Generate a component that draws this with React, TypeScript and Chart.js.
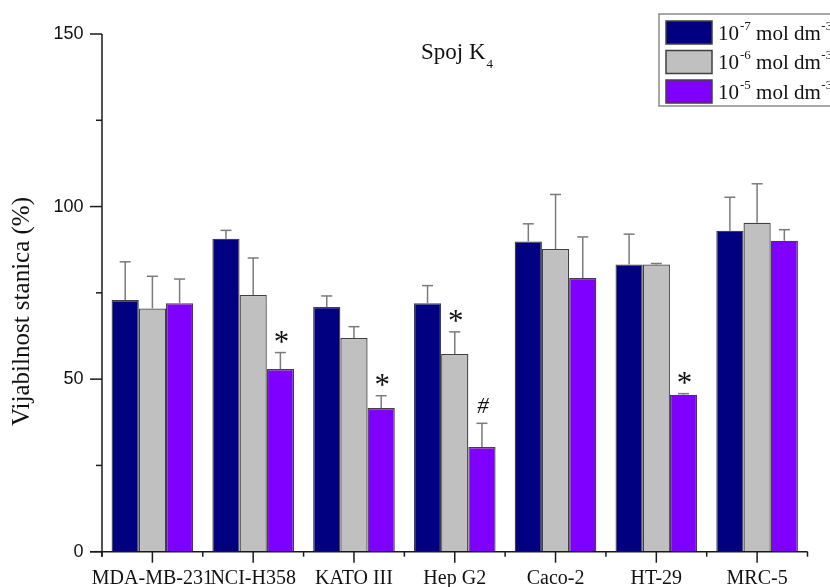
import React, { useEffect, useRef } from 'react';
import { Chart, registerables } from 'chart.js';

Chart.register(...registerables);

// ---- data ----
const CATEGORIES = ['MDA-MB-231', 'NCI-H358', 'KATO III', 'Hep G2', 'Caco-2', 'HT-29', 'MRC-5'];
const SERIES_EXPONENTS = ['-7', '-6', '-5'];
const SERIES_LABELS = ['10^-7 mol dm^-3', '10^-6 mol dm^-3', '10^-5 mol dm^-3'];

const VALUES_1E7 = [72.9, 90.7, 70.9, 72.0, 89.9, 83.2, 93.0];
const ERRORS_1E7 = [11.1, 2.4, 3.2, 5.1, 5.1, 8.8, 9.7];
const VALUES_1E6 = [70.5, 74.4, 61.9, 57.3, 87.7, 83.2, 95.3];
const ERRORS_1E6 = [9.3, 10.7, 3.3, 6.4, 15.8, 0.3, 11.3];
const VALUES_1E5 = [72.0, 52.9, 41.6, 30.3, 79.3, 45.5, 90.1];
const ERRORS_1E5 = [7.0, 4.8, 3.6, 6.9, 11.9, 0.3, 3.2];

const MARKS_1E7 = ['', '', '', '', '', '', ''];
const MARKS_1E6 = ['', '', '', '*', '', '', ''];
const MARKS_1E5 = ['', '*', '*', '#', '', '*', ''];

const Y_MIN = 0;
const Y_MAX = 150;
const Y_STEP = 25;
const Y_LABELED_TICKS = [0, 50, 100, 150];

const TITLE_MAIN = 'Spoj K';
const TITLE_SUB = '4';
const Y_TITLE = 'Vijabilnost stanica (%)';

const COLORS = ['#000080', '#C0C0C0', '#8000FF'];

const ERRORS = [ERRORS_1E7, ERRORS_1E6, ERRORS_1E5];
const MARKS = [MARKS_1E7, MARKS_1E6, MARKS_1E5];
const VALUES = [VALUES_1E7, VALUES_1E6, VALUES_1E5];

const SERIF = '"Liberation Serif", "Times New Roman", serif';
const SANS = '"Liberation Sans", Arial, sans-serif';
const AXIS_COLOR = '#1a1a1a';

function line(ctx: CanvasRenderingContext2D, x1: number, y1: number, x2: number, y2: number) {
  ctx.beginPath();
  ctx.moveTo(x1, y1);
  ctx.lineTo(x2, y2);
  ctx.stroke();
}

const decorPlugin = {
  id: 'decor',
  afterDatasetsDraw(chart: any) {
    const ctx: CanvasRenderingContext2D = chart.ctx;
    const ys = chart.scales.y;
    ctx.save();
    chart.data.datasets.forEach((ds: any, di: number) => {
      const meta = chart.getDatasetMeta(di);
      meta.data.forEach((bar: any, j: number) => {
        const v = ds.data[j] as number;
        const e = ERRORS[di][j];
        const yBar = ys.getPixelForValue(v);
        const yTop = ys.getPixelForValue(v + e);
        ctx.strokeStyle = '#7a7a7a';
        ctx.lineWidth = 1.5;
        line(ctx, bar.x, yBar, bar.x, yTop);
        line(ctx, bar.x - 5.5, yTop, bar.x + 5.5, yTop);
        const mk = MARKS[di][j];
        if (mk) {
          ctx.fillStyle = '#111';
          ctx.font = mk === '#' ? `italic 23px ${SERIF}` : `31px ${SERIF}`;
          ctx.textAlign = 'center';
          ctx.textBaseline = 'alphabetic';
          const m = ctx.measureText(mk);
          const gap = 10;
          const baseline = yTop - gap - m.actualBoundingBoxDescent;
          ctx.fillText(mk, bar.x + 1, baseline);
        }
      });
    });
    ctx.restore();
  },
  afterDraw(chart: any) {
    const ctx: CanvasRenderingContext2D = chart.ctx;
    const ca = chart.chartArea;
    const ys = chart.scales.y;
    const xs = chart.scales.x;
    ctx.save();
    ctx.strokeStyle = AXIS_COLOR;
    ctx.lineWidth = 1.5;
    line(ctx, ca.left, ca.top, ca.left, ca.bottom + 5);
    line(ctx, ca.left - 12, ca.bottom, ca.right, ca.bottom);
    for (let v = Y_MIN; v <= Y_MAX; v += Y_STEP) {
      const y = ys.getPixelForValue(v);
      const len = Y_LABELED_TICKS.includes(v) ? 12 : 6;
      line(ctx, ca.left - len, y, ca.left, y);
    }
    for (let i = 0; i < CATEGORIES.length; i++) {
      const x = xs.getPixelForValue(i);
      line(ctx, x, ca.bottom, x, ca.bottom + 11);
    }
    for (let i = 0; i <= CATEGORIES.length; i++) {
      const x = xs.getPixelForValue(i - 0.5);
      line(ctx, x, ca.bottom, x, ca.bottom + 5);
    }

    // title
    ctx.fillStyle = '#111';
    ctx.textAlign = 'left';
    ctx.textBaseline = 'alphabetic';
    ctx.font = `23px ${SERIF}`;
    const tx = 421;
    ctx.fillText(TITLE_MAIN, tx, 59);
    const tw = ctx.measureText(TITLE_MAIN).width;
    ctx.font = `13px ${SERIF}`;
    ctx.fillText(TITLE_SUB, tx + tw + 1, 68);

    // y title
    ctx.save();
    ctx.translate(28.5, 311.5);
    ctx.rotate(-Math.PI / 2);
    ctx.font = `25px ${SERIF}`;
    ctx.textAlign = 'center';
    ctx.textBaseline = 'alphabetic';
    ctx.fillText(Y_TITLE, 0, 0);
    ctx.restore();

    // legend
    const lx = 659, ly = 14;
    ctx.strokeStyle = '#8a8a8a';
    ctx.lineWidth = 1.5;
    ctx.strokeRect(lx, ly, 200, 92);
    const rowTops = [21, 50.5, 80];
    chart.data.datasets.forEach((ds: any, di: number) => {
      const top = rowTops[di];
      ctx.fillStyle = ds.backgroundColor;
      ctx.fillRect(666, top, 46, 23);
      ctx.strokeStyle = '#404040';
      ctx.lineWidth = 1.5;
      ctx.strokeRect(666, top, 46, 23);
      const base = top + 18.5;
      ctx.fillStyle = '#111';
      ctx.textAlign = 'left';
      let x = 718;
      ctx.font = `21px ${SERIF}`;
      ctx.fillText('10', x, base);
      x += ctx.measureText('10').width + 1;
      ctx.font = `13px ${SERIF}`;
      ctx.fillText(SERIES_EXPONENTS[di], x, base - 10);
      x += ctx.measureText(SERIES_EXPONENTS[di]).width;
      ctx.font = `21px ${SERIF}`;
      ctx.fillText(' mol dm', x, base);
      x += ctx.measureText(' mol dm').width + 0.5;
      ctx.font = `13px ${SERIF}`;
      ctx.fillText('-3', x, base - 10);
    });
    ctx.restore();
  },
};

export default function App() {
  const canvasRef = useRef<HTMLCanvasElement | null>(null);

  useEffect(() => {
    const canvas = canvasRef.current;
    if (!canvas) return;
    const chart = new Chart(canvas, {
      type: 'bar',
      data: {
        labels: CATEGORIES,
        datasets: VALUES.map((vals, i) => ({
          label: SERIES_LABELS[i],
          data: vals,
          backgroundColor: COLORS[i],
          borderColor: '#404040',
          borderWidth: 1.3,
          categoryPercentage: 0.81,
          barPercentage: 1.0,
        })),
      },
      options: {
        responsive: false,
        animation: false,
        maintainAspectRatio: false,
        layout: { padding: { left: 0, top: 34, right: 22.5, bottom: 0 } },
        plugins: {
          legend: { display: false },
          title: { display: false },
          tooltip: { enabled: false },
        },
        scales: {
          x: {
            grid: { display: false, drawTicks: false },
            border: { display: false },
            ticks: {
              autoSkip: false,
              maxRotation: 0,
              minRotation: 0,
              padding: 15,
              color: '#111',
              font: { family: SERIF, size: 20 },
            },
            afterFit: (scale: any) => {
              scale.height = 35.3;
            },
          },
          y: {
            min: Y_MIN,
            max: Y_MAX,
            grid: { display: false, drawTicks: false },
            border: { display: false },
            ticks: {
              stepSize: Y_STEP,
              padding: 18.5,
              color: '#111',
              font: { family: SANS, size: 18 },
              callback: (v: any) => (Y_LABELED_TICKS.includes(Number(v)) ? String(v) : ''),
            },
            afterFit: (scale: any) => {
              scale.width = 102;
            },
          },
        },
      },
      plugins: [decorPlugin],
    });
    return () => chart.destroy();
  }, []);

  return (
    <div style={{ position: 'fixed', left: 0, top: 0, width: 830, height: 587, background: '#fff' }}>
      <canvas ref={canvasRef} width={830} height={587} style={{ display: 'block', width: 830, height: 587 }} />
    </div>
  );
}
